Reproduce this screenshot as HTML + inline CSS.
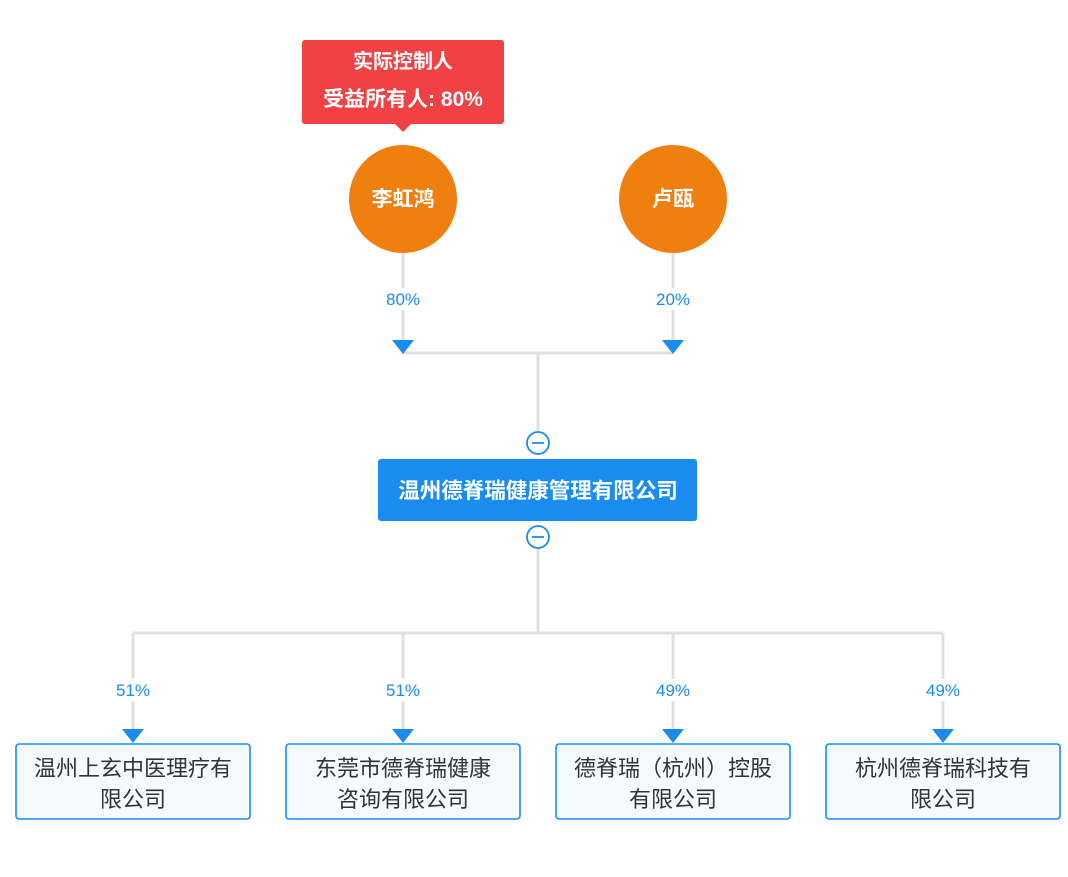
<!DOCTYPE html>
<html><head><meta charset="utf-8"><style>
body{margin:0;background:#fff;}
svg text{font-family:"Liberation Sans","Noto Sans CJK SC",sans-serif;}
</style></head><body>
<svg width="1068" height="872" viewBox="0 0 1068 872" xmlns="http://www.w3.org/2000/svg">
<g stroke="#e0e0e0" stroke-width="3" fill="none">
<line x1="403" y1="253" x2="403" y2="343"/>
<line x1="673" y1="253" x2="673" y2="343"/>
<line x1="403" y1="353" x2="673" y2="353"/>
<line x1="538" y1="353" x2="538" y2="432"/>
<line x1="538" y1="548" x2="538" y2="633"/>
<line x1="133" y1="633" x2="943" y2="633"/>
<line x1="133" y1="633" x2="133" y2="732"/>
<line x1="403" y1="633" x2="403" y2="732"/>
<line x1="673" y1="633" x2="673" y2="732"/>
<line x1="943" y1="633" x2="943" y2="732"/>
</g>
<g fill="#fff">
<rect x="380" y="288" width="46" height="22"/><rect x="650" y="288" width="46" height="22"/>
<rect x="110" y="679" width="46" height="22"/><rect x="380" y="679" width="46" height="22"/>
<rect x="650" y="679" width="46" height="22"/><rect x="920" y="679" width="46" height="22"/>
</g>
<g fill="#1a8cf0" font-size="17" text-anchor="middle">
<text x="403" y="305">80%</text><text x="673" y="305">20%</text>
<text x="133" y="696">51%</text><text x="403" y="696">51%</text>
<text x="673" y="696">49%</text><text x="943" y="696">49%</text>
</g>
<g fill="#1a8cf0">
<polygon points="392,340 414,340 403,354"/><polygon points="662,340 684,340 673,354"/>
<polygon points="122,729 144,729 133,743"/><polygon points="392,729 414,729 403,743"/>
<polygon points="662,729 684,729 673,743"/><polygon points="932,729 954,729 943,743"/>
</g>
<rect x="302" y="40" width="202" height="84" rx="3" fill="#f04145"/>
<polygon points="395,124 411,124 403,132" fill="#f04145"/>
<g fill="#fff" font-weight="bold" text-anchor="middle">
<text x="403" y="68" font-size="20">实际控制人</text>
<text x="403" y="106" font-size="21">受益所有人: 80%</text>
</g>
<circle cx="403" cy="199" r="54" fill="#ef7f0f"/>
<circle cx="673" cy="199" r="54" fill="#ef7f0f"/>
<g fill="#fff" font-weight="bold" font-size="21" text-anchor="middle">
<text x="403" y="206">李虹鸿</text><text x="673" y="206">卢瓯</text>
</g>
<g stroke="#1a8cf0" stroke-width="1.8" fill="#fff">
<circle cx="538" cy="443" r="11"/><circle cx="538" cy="537" r="11"/>
</g>
<g stroke="#1a8cf0" stroke-width="1.8"><line x1="532" y1="443" x2="544" y2="443"/><line x1="532" y1="537" x2="544" y2="537"/></g>
<rect x="378" y="459" width="319" height="62" rx="3" fill="#1a8cf0"/>
<text x="538" y="498" fill="#fff" font-weight="bold" font-size="21.5" text-anchor="middle">温州德脊瑞健康管理有限公司</text>
<g fill="#f5faff" stroke="#1a8cf0" stroke-width="1.6">
<rect x="16" y="744" width="234" height="75" rx="3"/><rect x="286" y="744" width="234" height="75" rx="3"/>
<rect x="556" y="744" width="234" height="75" rx="3"/><rect x="826" y="744" width="234" height="75" rx="3"/>
</g>
<g fill="#333" font-size="22" text-anchor="middle">
<text x="133" y="776">温州上玄中医理疗有</text><text x="133" y="807">限公司</text>
<text x="403" y="776">东莞市德脊瑞健康</text><text x="403" y="807">咨询有限公司</text>
<text x="673" y="776">德脊瑞（杭州）控股</text><text x="673" y="807">有限公司</text>
<text x="943" y="776">杭州德脊瑞科技有</text><text x="943" y="807">限公司</text>
</g>
</svg>
</body></html>
